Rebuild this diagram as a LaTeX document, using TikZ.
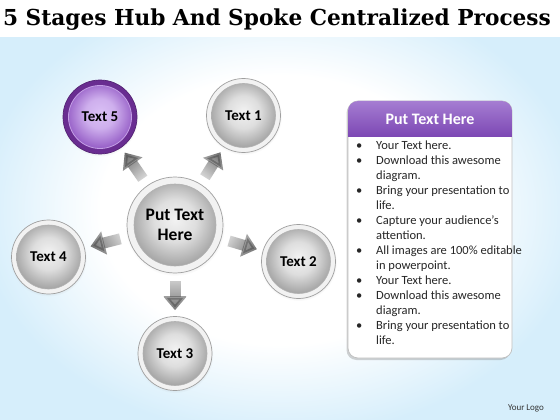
\documentclass[tikz,border=0pt]{standalone}
\usepackage{fontspec}
\setmainfont{Carlito}
\newfontfamily\titlefont[FakeStretch=0.985]{DejaVu Serif}
\usetikzlibrary{arrows.meta,shadows,fadings}

\definecolor{bgblue}{RGB}{214,238,251}
\definecolor{purpdark}{RGB}{105,45,145}
\definecolor{purpmid}{RGB}{140,80,192}
\definecolor{purplight}{RGB}{218,192,245}
\definecolor{hdrtop}{RGB}{165,125,210}
\definecolor{hdrbot}{RGB}{125,72,180}

\pgfdeclareradialshading{bgshade}{\pgfpoint{0bp}{0bp}}{color(0bp)=(white); color(16bp)=(white); color(27bp)=(bgblue); color(50bp)=(bgblue)}
\pgfdeclareradialshading{greysphere}{\pgfpoint{0bp}{3bp}}{color(0bp)=(gray!10); color(11bp)=(gray!26); color(20bp)=(gray!60); color(25bp)=(gray!78); color(50bp)=(gray!78)}
\pgfdeclareradialshading{purplesphere}{\pgfpoint{0bp}{3bp}}{color(0bp)=(purplight); color(10bp)=(purplight!85!purpmid); color(25bp)=(purpmid); color(50bp)=(purpmid)}

\tikzfading[name=tailfade, left color=transparent!90, right color=transparent!0]

\tikzset{
  ball/.style={circle, minimum size=74pt, inner sep=0pt, draw=gray!75, line width=0.7pt,
    fill=gray!10, font=\bfseries\fontsize{15}{17}\selectfont,
    circular drop shadow={shadow xshift=0pt, shadow yshift=-1pt, shadow scale=1.04, opacity=0.18},
    path picture={\shadedraw[shading=greysphere, draw=gray!60, line width=0.6pt]
      (path picture bounding box.center) circle (32pt);}},
  purpleball/.style={ball, draw=purpdark!80!black, fill=purpdark,
    path picture={\shadedraw[shading=purplesphere, draw=purplight!70!purpmid, line width=0.8pt]
      (path picture bounding box.center) circle (31.5pt);}},
  hubball/.style={ball, minimum size=96pt, align=center, font=\bfseries\fontsize{17.5}{20}\selectfont,
    path picture={\shadedraw[shading=greysphere, draw=gray!60, line width=0.6pt]
      (path picture bounding box.center) circle (41pt);}},
  spoke/.style={draw=black!65, line width=11pt, -{Triangle[width=23pt,length=14pt]},
    shorten <=8pt, shorten >=6pt, path fading=tailfade},
  panelbox/.style={rectangle, rounded corners=10pt, draw=gray!50, line width=0.7pt,
    fill=white, minimum width=164pt, minimum height=257pt,
    drop shadow={shadow xshift=-1.5pt, shadow yshift=-2pt, opacity=0.35}},
  hdrtext/.style={text=white, font=\bfseries\fontsize{16}{19}\selectfont},
  listtext/.style={anchor=north west, inner sep=0pt, font=\fontsize{12.5}{15}\selectfont, text=black!85},
}

\begin{document}
\begin{tikzpicture}[x=1pt, y=-1pt]
\useasboundingbox (0,0) rectangle (560,420);
% background
\shade[shading=bgshade] (0,0) rectangle (560,420);
\fill[white] (0,0) rectangle (560,37);

% title
\node[anchor=base, inner sep=0pt, font=\titlefont\bfseries\fontsize{22}{26}\selectfont] (title) at (277,26)
  {5 Stages Hub And Spoke Centralized Process};

% circles
\node[hubball] (hub) at (175,225) {Put Text\\Here};
\node[ball] (t1) at (243.5,115.5) {Text 1};
\node[ball] (t2) at (298.5,261.5) {Text 2};
\node[ball] (t3) at (175,353.5) {Text 3};
\node[ball] (t4) at (48.5,257) {Text 4};
\node[purpleball] (t5) at (100,117) {Text 5};

% spokes
\draw[spoke, fading angle=124.8] (hub) -- (t5);
\draw[spoke, fading angle=58] (hub) -- (t1);
\draw[spoke, fading angle=194] (hub) -- (t4);
\draw[spoke, fading angle=-16.5] (hub) -- (t2);
\draw[spoke, fading angle=-90] (hub) -- (t3);

% panel
\node[panelbox] (panel) at (430,229.5) {};
\begin{scope}
  \clip[rounded corners=10pt] (348,101) rectangle (512,358);
  \shade[top color=hdrtop, bottom color=hdrbot] (348,101) rectangle (512,136);
\end{scope}
\node[hdrtext] (hdr) at (430,119) {Put Text Here};
\node[listtext] (list) at (356,138.5) {%
\begin{tabular}{@{}p{20pt}@{}l@{}}
\textbullet & Your Text here.\\
\textbullet & Download this awesome\\
 & diagram.\\
\textbullet & Bring your presentation to\\
 & life.\\
\textbullet & Capture your audience’s\\
 & attention.\\
\textbullet & All images are 100\% editable\\
 & in powerpoint.\\
\textbullet & Your Text here.\\
\textbullet & Download this awesome\\
 & diagram.\\
\textbullet & Bring your presentation to\\
 & life.\\
\end{tabular}};

\node[font=\fontsize{9}{11}\selectfont, text=black!80] (logo) at (526,408) {Your Logo};
\end{tikzpicture}
\end{document}
